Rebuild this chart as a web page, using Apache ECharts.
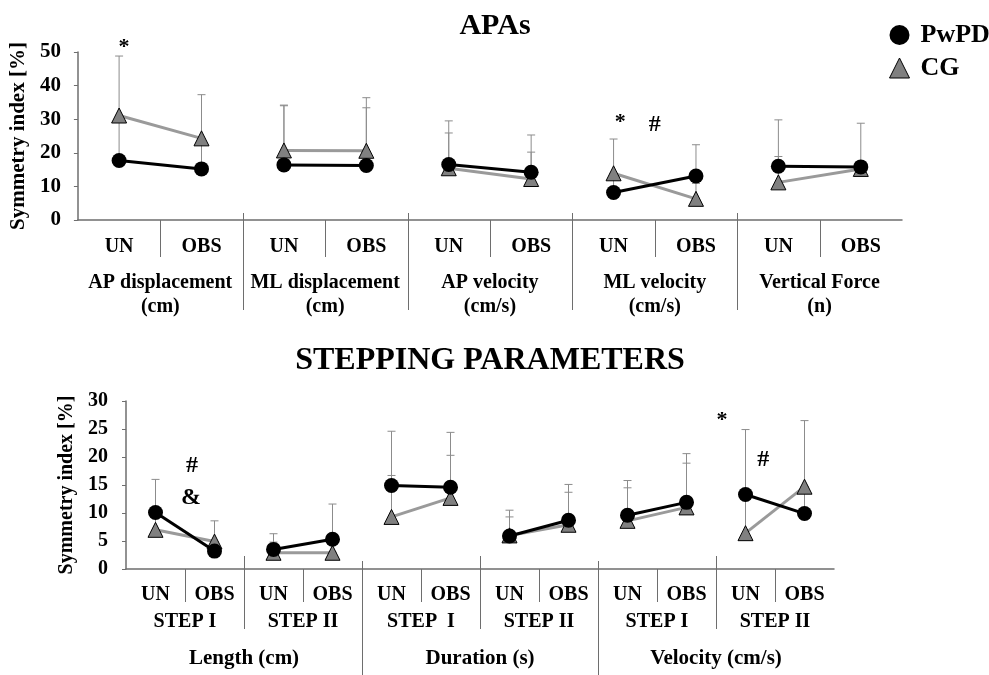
<!DOCTYPE html>
<html><head><meta charset="utf-8">
<script src="https://cdn.jsdelivr.net/npm/echarts@6/dist/echarts.min.js"></script>
<style>html,body{margin:0;padding:0;background:#fff}#c{width:989px;height:675px}</style>
</head><body><div id="c"></div>
<script>
// ---------- APAs ----------
const apasConditions = ['UN','OBS','UN','OBS','UN','OBS','UN','OBS','UN','OBS'];
const apasGroups = ['AP displacement\n(cm)','ML displacement\n(cm)','AP velocity\n(cm/s)','ML velocity\n(cm/s)','Vertical Force\n(n)'];
const apasPwPD      = [17.7, 15.2, 16.4, 16.2, 16.5, 14.2,  8.2, 13.1, 16.0, 15.8];
const apasCG        = [31.1, 24.3, 20.7, 20.6, 15.4, 12.2, 13.9,  6.3, 11.2, 15.2];
const apasPwPDUpper = [31.0, 24.2, 34.2, 36.4, 29.5, 25.3, 13.9, 22.4, 18.9, 28.8];
const apasCGUpper   = [48.8, 37.3, 34.0, 33.4, 25.9, 20.2, 24.1, 10.9, 29.8, 15.4];
const apasMarkX    = [0.06, 6.08, 6.5];
const apasMarkY    = [51.3, 29.2, 28.3];
const apasMarkText = ['*', '*', '#'];

// ---------- STEPPING PARAMETERS ----------
const stepConditions = ['UN','OBS','UN','OBS','UN','OBS','UN','OBS','UN','OBS','UN','OBS'];
const stepSteps  = ['STEP I','STEP II','STEP  I','STEP II','STEP I','STEP II'];
const stepGroups = ['Length (cm)','Duration (s)','Velocity (cm/s)'];
const stepPwPD      = [10.1, 3.2, 3.5, 5.3, 14.9, 14.6, 5.9, 8.7, 9.6, 11.9, 13.3,  9.9];
const stepCG        = [ 7.0, 4.9, 2.9, 2.9,  9.3, 12.7, 6.0, 7.9, 8.6, 11.0,  6.4, 14.7];
const stepPwPDUpper = [16.0, 4.9, 6.3, 11.6, 24.6, 24.4, 10.5, 15.1, 15.8, 20.6, 24.9, 14.7];
const stepCGUpper   = [10.1, 8.6, 4.8, 3.0, 16.7, 20.3, 9.3, 13.7, 14.5, 18.9, 13.3, 26.5];
const stepMarkX    = [0.62, 0.6, 9.6, 10.3];
const stepMarkY    = [18.4, 12.7, 26.6, 19.5];
const stepMarkText = ['#', '&', '*', '#'];

const FONT = '"Liberation Serif", "Times New Roman", serif';
const AXIS_COLOR = '#6e6e6e';
const ERR_COLOR = '#8c8c8c';

const chart = echarts.init(document.getElementById('c'), null, {renderer: 'canvas'});

function pairSeries(name, vals, xi, yi, style) {
  const out = [];
  for (let p = 0; p < vals.length / 2; p++) {
    out.push(Object.assign({
      type: 'line', name: name, xAxisIndex: xi, yAxisIndex: yi,
      data: [[2 * p, vals[2 * p]], [2 * p + 1, vals[2 * p + 1]]]
    }, style));
  }
  return out;
}
const pwpdStyle = {
  symbol: 'circle', symbolSize: 15, z: 5,
  lineStyle: {color: '#000', width: 3},
  itemStyle: {color: '#000'}
};
const cgStyle = {
  symbol: 'triangle', symbolSize: 15, z: 4,
  lineStyle: {color: '#9a9a9a', width: 3},
  itemStyle: {color: '#808080', borderColor: '#000', borderWidth: 1}
};

function errSeries(means, uppers, xi, yi) {
  return {
    type: 'custom', xAxisIndex: xi, yAxisIndex: yi, z: 2, silent: true,
    data: means.map((m, i) => [i, m, uppers[i]]),
    encode: {x: 0, y: [1, 2]},
    renderItem: function (params, api) {
      const p1 = api.coord([api.value(0), api.value(1)]);
      const p2 = api.coord([api.value(0), api.value(2)]);
      return {type: 'group', children: [
        {type: 'line', shape: {x1: p1[0], y1: p1[1], x2: p2[0], y2: p2[1]}, style: {stroke: ERR_COLOR, lineWidth: 1}},
        {type: 'line', shape: {x1: p2[0] - 4, y1: p2[1], x2: p2[0] + 4, y2: p2[1]}, style: {stroke: ERR_COLOR, lineWidth: 1}}
      ]};
    }
  };
}

// boundary separators below the axis (levels: [down, up])
function sepSeries(nCats, levelOf, levels, xi, yi) {
  const data = [];
  for (let i = 1; i < nCats; i++) data.push([i, 0, levelOf(i)]);
  return {
    type: 'custom', xAxisIndex: xi, yAxisIndex: yi, silent: true, z: 1,
    data: data, encode: {x: 0, y: 1},
    renderItem: function (params, api) {
      const c = api.coord([api.value(0), 0]);
      const bw = api.size([1, 0])[0];
      const lv = levels[api.value(2)];
      const x = Math.round(c[0] - bw / 2) + 0.5;
      return {type: 'line', shape: {x1: x, y1: c[1] - lv[1], x2: x, y2: c[1] + lv[0]},
        style: {stroke: AXIS_COLOR, lineWidth: 1}};
    }
  };
}

function markSeries(xs, ys, texts, xi, yi) {
  return {
    type: 'custom', xAxisIndex: xi, yAxisIndex: yi, silent: true, z: 6,
    data: xs.map((x, i) => [x, ys[i]]), encode: {x: 0, y: 1},
    renderItem: function (params, api) {
      const p = api.coord([api.value(0), api.value(1)]);
      const t = texts[params.dataIndex];
      return {type: 'text', x: p[0], y: p[1], style: {
        text: t, fill: '#000', align: 'center', verticalAlign: 'middle',
        font: 'bold ' + (t === '*' ? 22 : 24) + 'px ' + FONT}};
    }
  };
}

const labelText = (size) => ({fontFamily: FONT, fontWeight: 'bold', fontSize: size, color: '#000'});

const option = {
  animation: false,
  backgroundColor: '#fff',
  title: [
    {text: 'APAs', left: 490, top: 6, textAlign: 'center', textStyle: labelText(30)},
    {text: 'STEPPING PARAMETERS', left: 485, top: 340, textAlign: 'center', textStyle: labelText(32)}
  ],
  legend: {
    orient: 'vertical', left: 884, top: 17, itemWidth: 20, itemHeight: 20, itemGap: 7,
    textStyle: Object.assign(labelText(26), {padding: [0, 0, 0, 6]}),
    data: [
      {name: 'PwPD', icon: 'circle', itemStyle: {color: '#000'}},
      {name: 'CG', icon: 'triangle', itemStyle: {color: '#808080', borderColor: '#000', borderWidth: 1}}
    ]
  },
  grid: [
    {left: 77, right: 87, top: 52, bottom: 455, containLabel: false},
    {left: 126, right: 155, top: 401, bottom: 106, containLabel: false}
  ],
  xAxis: [
    {type: 'category', gridIndex: 0, position: 'bottom', data: apasConditions,
      axisLine: {show: true, onZero: false, lineStyle: {color: AXIS_COLOR, width: 1.5}}, axisTick: {show: false},
      axisLabel: Object.assign(labelText(20), {interval: 0, margin: 17})},
    {type: 'category', gridIndex: 0, position: 'bottom', data: apasGroups,
      axisLine: {show: false, onZero: false}, axisTick: {show: false},
      axisLabel: Object.assign(labelText(20), {interval: 0, margin: 51, lineHeight: 24})},
    {type: 'value', gridIndex: 0, show: false, min: -0.5, max: 9.5,
      axisLine: {onZero: false}},
    {type: 'category', gridIndex: 1, position: 'bottom', data: stepConditions,
      axisLine: {show: true, onZero: false, lineStyle: {color: AXIS_COLOR, width: 1.5}}, axisTick: {show: false},
      axisLabel: Object.assign(labelText(20), {interval: 0, margin: 16})},
    {type: 'category', gridIndex: 1, position: 'bottom', data: stepSteps,
      axisLine: {show: false, onZero: false}, axisTick: {show: false},
      axisLabel: Object.assign(labelText(20), {interval: 0, margin: 43})},
    {type: 'category', gridIndex: 1, position: 'bottom', data: stepGroups,
      axisLine: {show: false, onZero: false}, axisTick: {show: false},
      axisLabel: Object.assign(labelText(21), {interval: 0, margin: 79})},
    {type: 'value', gridIndex: 1, show: false, min: -0.5, max: 11.5,
      axisLine: {onZero: false}}
  ],
  yAxis: [
    {type: 'value', gridIndex: 0, min: 0, max: 50, interval: 10,
      name: 'Symmetry index [%]', nameLocation: 'middle', nameGap: 46, nameRotate: 90,
      nameTextStyle: labelText(21),
      axisLine: {show: true, onZero: false, lineStyle: {color: AXIS_COLOR, width: 1.5}},
      axisTick: {show: true, length: 4, lineStyle: {color: AXIS_COLOR}},
      splitLine: {show: false},
      axisLabel: Object.assign(labelText(21), {margin: 17})},
    {type: 'value', gridIndex: 1, min: 0, max: 30, interval: 5,
      name: 'Symmetry index [%]', nameLocation: 'middle', nameGap: 47, nameRotate: 90,
      nameTextStyle: labelText(20),
      axisLine: {show: true, onZero: false, lineStyle: {color: AXIS_COLOR, width: 1.5}},
      axisTick: {show: true, length: 4, lineStyle: {color: AXIS_COLOR}},
      splitLine: {show: false},
      axisLabel: Object.assign(labelText(20), {margin: 18})}
  ],
  series: [].concat(
    sepSeries(10, i => (i % 2 === 1 ? 0 : 1), [[37, 0], [90, 7]], 0, 0),
    sepSeries(12, i => (i % 4 === 0 ? 2 : (i % 2 === 0 ? 1 : 0)), [[33, 0], [60, 13], [106, 8]], 3, 1),
    errSeries(apasCG, apasCGUpper, 0, 0),
    errSeries(apasPwPD, apasPwPDUpper, 0, 0),
    errSeries(stepCG, stepCGUpper, 3, 1),
    errSeries(stepPwPD, stepPwPDUpper, 3, 1),
    pairSeries('CG', apasCG, 0, 0, cgStyle),
    pairSeries('PwPD', apasPwPD, 0, 0, pwpdStyle),
    pairSeries('CG', stepCG, 3, 1, cgStyle),
    pairSeries('PwPD', stepPwPD, 3, 1, pwpdStyle),
    markSeries(apasMarkX, apasMarkY, apasMarkText, 2, 0),
    markSeries(stepMarkX, stepMarkY, stepMarkText, 6, 1)
  )
};
chart.setOption(option);
</script>
</body></html>
